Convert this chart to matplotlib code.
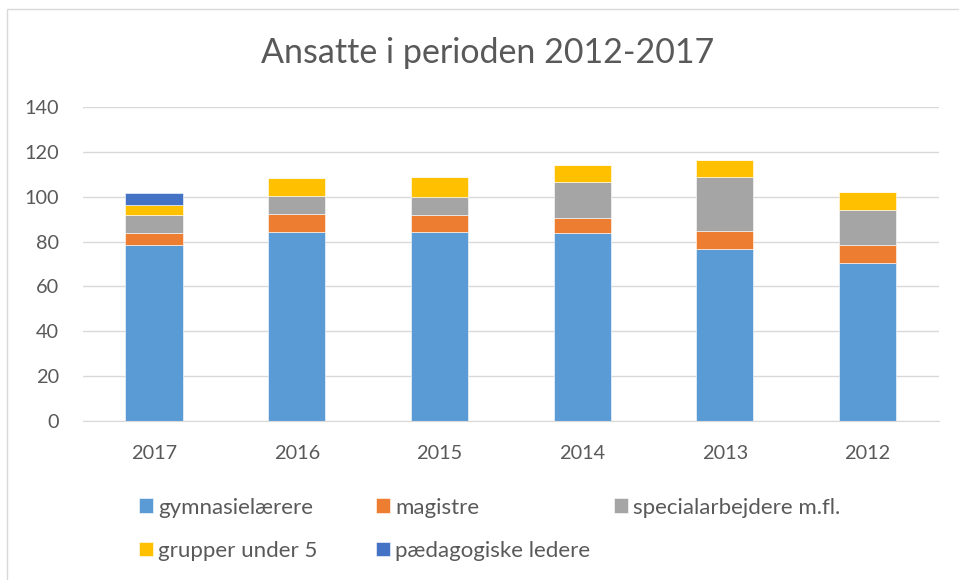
import numpy as np
import matplotlib.pyplot as plt
from matplotlib.patches import Rectangle

plt.rcParams['font.family'] = ['Lato', 'DejaVu Sans']

years = ['2017', '2016', '2015', '2014', '2013', '2012']
gymnasielaerere = [78.4, 84.3, 84.3, 83.9, 76.6, 70.3]
magistre = [5.6, 7.8, 7.5, 6.7, 8.0, 8.4]
specialarbejdere = [7.8, 8.1, 7.9, 15.8, 24.1, 15.6]
grupper_under_5 = [4.6, 8.3, 9.2, 7.9, 7.5, 7.9]
paedagogiske_ledere = [5.4, 0, 0, 0, 0, 0]

labels = ['gymnasielærere', 'magistre', 'specialarbejdere m.fl.',
          'grupper under 5', 'pædagogiske ledere']
cols = ['#5B9BD5', '#ED7D31', '#A5A5A5', '#FFC000', '#4472C4']
series = [gymnasielaerere, magistre, specialarbejdere, grupper_under_5, paedagogiske_ledere]

fig = plt.figure(figsize=(9.59, 5.80), dpi=100)
ax = fig.add_axes([0.0862, 0.2741, 0.8928, 0.5414])

x = np.arange(len(years))
bottom = np.zeros(len(years))
bars = []
for vals, c, lab in zip(series, cols, labels):
    b = ax.bar(x, vals, 0.4, bottom=bottom, color=c, label=lab,
               edgecolor='white', linewidth=0.4)
    bars.append(b)
    bottom += np.array(vals)

ax.set_xlim(-0.5, len(years) - 0.5)
ax.set_ylim(0, 140)
ax.set_yticks(np.arange(0, 141, 20))
ax.set_xticks(x)
ax.set_xticklabels(years)
ax.grid(axis='y', color='#d9d9d9', linewidth=1)
ax.set_axisbelow(True)
for s in ['top', 'right', 'left']:
    ax.spines[s].set_visible(False)
ax.spines['bottom'].set_color('#d9d9d9')
ax.tick_params(axis='both', length=0, labelsize=14.3, colors='#595959')
ax.tick_params(axis='y', pad=17)
ax.tick_params(axis='x', pad=17.5)

fig.text(0.508, 1 - 53 / 580, 'Ansatte i perioden 2012-2017', ha='center', va='center',
         fontsize=24.5, color='#595959')

# legend laid out row-wise like the original, one legend per column
colx = [139, 376, 614]
groups = [[0, 3], [1, 4], [2]]
for cx, g in zip(colx, groups):
    leg = fig.legend([bars[i] for i in g], [labels[i] for i in g], loc='upper left',
                     bbox_to_anchor=(cx / 959, 1 - 497.5 / 580), frameon=False,
                     fontsize=16, labelcolor='#595959', handlelength=0.62,
                     handleheight=0.62, handletextpad=0.24, labelspacing=1.05,
                     borderpad=0, borderaxespad=0)

fig.patches.append(Rectangle((6.5 / 959, -0.1), 1.0, 1.1 - 8.5 / 580, transform=fig.transFigure,
                             fill=False, edgecolor='#d9d9d9', linewidth=1))

fig.savefig('out.png', dpi=100)
